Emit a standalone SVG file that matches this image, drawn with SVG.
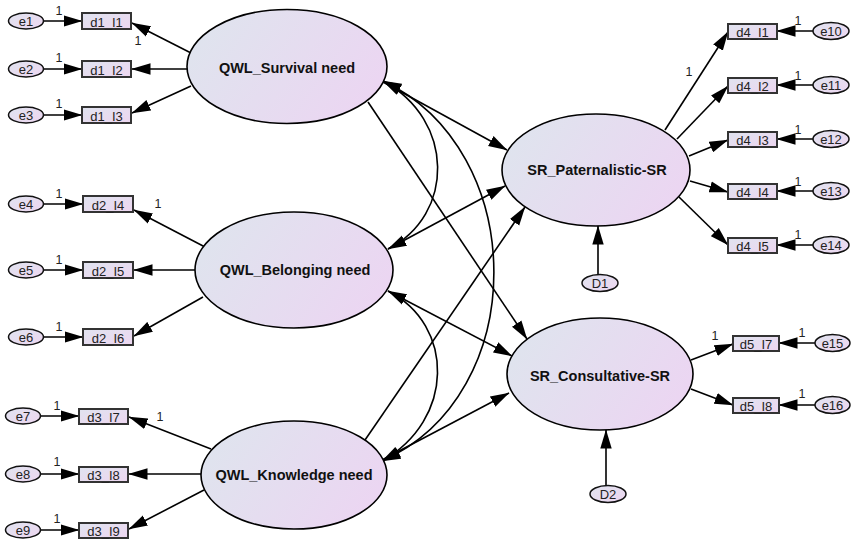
<svg xmlns="http://www.w3.org/2000/svg" width="851" height="542" viewBox="0 0 851 542">
<defs>
<linearGradient id="gBig" x1="0" y1="0.3" x2="1" y2="0.7">
<stop offset="0" stop-color="#dfe4ee"/>
<stop offset="1" stop-color="#ecd5f2"/>
</linearGradient>
<linearGradient id="gSmall" x1="0" y1="0" x2="1" y2="1">
<stop offset="0" stop-color="#e0e3ef"/>
<stop offset="1" stop-color="#edd6f0"/>
</linearGradient>
<marker id="arr" markerUnits="userSpaceOnUse" markerWidth="19" markerHeight="12" viewBox="0 0 19 12" refX="18.5" refY="6" orient="auto-start-reverse">
<path d="M0,0.3 L19,6 L0,11.7 z" fill="#000"/>
</marker>
<style>
.lat{fill:url(#gBig);stroke:#000;stroke-width:1.6}
.obs{fill:url(#gSmall);stroke:#333;stroke-width:2}
.err{fill:url(#gSmall);stroke:#111;stroke-width:1.5}
.big{font-family:"Liberation Sans",Arial,sans-serif;font-size:14.5px;font-weight:bold;text-anchor:middle;fill:#111}
.sm{font-family:"Liberation Sans",Arial,sans-serif;font-size:13px;text-anchor:middle;fill:#222}
.one{font-family:"Liberation Sans",Arial,sans-serif;font-size:12.5px;text-anchor:middle;fill:#222}
.c line,.c path{stroke:#000;stroke-width:1.6;fill:none}
.a{marker-end:url(#arr)}
.b{marker-start:url(#arr);marker-end:url(#arr)}
</style>
</defs>
<rect width="851" height="542" fill="#fff"/>

<g id="connectors" class="c">
<line class="a" x1="383" y1="82" x2="507" y2="150"/>
<line class="a" x1="368" y1="102" x2="527" y2="339"/>
<line class="a" x1="388" y1="249" x2="505" y2="186"/>
<line class="a" x1="388" y1="291" x2="512" y2="356"/>
<line class="a" x1="365" y1="440" x2="525" y2="207"/>
<line class="a" x1="382" y1="460" x2="509" y2="393"/>
<path class="b" d="M383,81 C455,120 455,215 388,249"/>
<path class="b" d="M383,81 C530,150 532,395 382,461"/>
<path class="b" d="M388,291 C455,325 455,420 382,461"/>
<line class="a" x1="191" y1="53" x2="132" y2="23"/>
<line class="a" x1="187" y1="69" x2="132" y2="69"/>
<line class="a" x1="191" y1="86" x2="132" y2="113"/>
<line class="a" x1="205" y1="247" x2="134" y2="210"/>
<line class="a" x1="195" y1="270" x2="134" y2="270"/>
<line class="a" x1="203" y1="297" x2="134" y2="336"/>
<line class="a" x1="211" y1="449" x2="129" y2="417"/>
<line class="a" x1="201" y1="474" x2="129" y2="474"/>
<line class="a" x1="204" y1="490" x2="129" y2="529"/>
<line class="a" x1="665" y1="130" x2="728" y2="32"/>
<line class="a" x1="677" y1="139" x2="728" y2="86"/>
<line class="a" x1="689" y1="156" x2="728" y2="140"/>
<line class="a" x1="690" y1="181" x2="728" y2="192"/>
<line class="a" x1="679" y1="197" x2="728" y2="245"/>
<line class="a" x1="691" y1="360" x2="733" y2="344"/>
<line class="a" x1="691" y1="389" x2="733" y2="405"/>
<line class="a" x1="43" y1="21" x2="82" y2="21"/>
<line class="a" x1="43" y1="69" x2="82" y2="69"/>
<line class="a" x1="43" y1="115" x2="82" y2="115"/>
<line class="a" x1="43" y1="204" x2="83" y2="204"/>
<line class="a" x1="43" y1="270" x2="83" y2="270"/>
<line class="a" x1="43" y1="337" x2="83" y2="337"/>
<line class="a" x1="40" y1="416" x2="79" y2="416"/>
<line class="a" x1="40" y1="474" x2="79" y2="474"/>
<line class="a" x1="40" y1="530" x2="79" y2="530"/>
<line class="a" x1="813" y1="31" x2="777" y2="31"/>
<line class="a" x1="813" y1="85" x2="777" y2="85"/>
<line class="a" x1="813" y1="139" x2="777" y2="139"/>
<line class="a" x1="813" y1="191" x2="777" y2="191"/>
<line class="a" x1="813" y1="245" x2="777" y2="245"/>
<line class="a" x1="815" y1="343" x2="779" y2="343"/>
<line class="a" x1="815" y1="405" x2="779" y2="405"/>
<line class="a" x1="598" y1="275" x2="598" y2="226"/>
<line class="a" x1="606" y1="486" x2="606" y2="430"/>
</g>

<g id="labels">
<text class="one" x="59" y="15">1</text>
<text class="one" x="59" y="62">1</text>
<text class="one" x="59" y="108">1</text>
<text class="one" x="138" y="45">1</text>
<text class="one" x="59" y="198">1</text>
<text class="one" x="59" y="264">1</text>
<text class="one" x="59" y="331">1</text>
<text class="one" x="158" y="208">1</text>
<text class="one" x="57" y="410">1</text>
<text class="one" x="57" y="466">1</text>
<text class="one" x="57" y="523">1</text>
<text class="one" x="160" y="421">1</text>
<text class="one" x="689" y="76">1</text>
<text class="one" x="798" y="25">1</text>
<text class="one" x="798" y="80">1</text>
<text class="one" x="798" y="134">1</text>
<text class="one" x="798" y="186">1</text>
<text class="one" x="798" y="239">1</text>
<text class="one" x="715" y="340">1</text>
<text class="one" x="802" y="337">1</text>
<text class="one" x="802" y="398">1</text>
</g>

<g id="QWL_Survival"><ellipse class="lat" cx="287" cy="66.5" rx="100" ry="57"/><text class="big" x="287" y="73">QWL_Survival need</text></g>
<g id="QWL_Belonging"><ellipse class="lat" cx="294" cy="270" rx="99" ry="58"/><text class="big" x="295" y="275">QWL_Belonging need</text></g>
<g id="QWL_Knowledge"><ellipse class="lat" cx="294" cy="475" rx="93" ry="54"/><text class="big" x="294" y="480">QWL_Knowledge need</text></g>
<g id="SR_Paternalistic"><ellipse class="lat" cx="596" cy="170" rx="94" ry="56"/><text class="big" x="597" y="175">SR_Paternalistic-SR</text></g>
<g id="SR_Consultative"><ellipse class="lat" cx="600" cy="374" rx="93" ry="56"/><text class="big" x="600" y="381">SR_Consultative-SR</text></g>

<g id="d1_I1"><rect class="obs" x="82" y="13" width="49" height="16"/><text class="sm" x="106.5" y="27">d1_I1</text></g>
<g id="d1_I2"><rect class="obs" x="82" y="61" width="49" height="16"/><text class="sm" x="106.5" y="75">d1_I2</text></g>
<g id="d1_I3"><rect class="obs" x="82" y="107" width="49" height="16"/><text class="sm" x="106.5" y="121">d1_I3</text></g>
<g id="d2_I4"><rect class="obs" x="83" y="196" width="50" height="16"/><text class="sm" x="108" y="210">d2_I4</text></g>
<g id="d2_I5"><rect class="obs" x="83" y="262" width="50" height="16"/><text class="sm" x="108" y="276">d2_I5</text></g>
<g id="d2_I6"><rect class="obs" x="83" y="329" width="50" height="16"/><text class="sm" x="108" y="343">d2_I6</text></g>
<g id="d3_I7"><rect class="obs" x="79" y="409" width="49" height="15"/><text class="sm" x="103.5" y="422">d3_I7</text></g>
<g id="d3_I8"><rect class="obs" x="79" y="467" width="49" height="15"/><text class="sm" x="103.5" y="480">d3_I8</text></g>
<g id="d3_I9"><rect class="obs" x="79" y="523" width="49" height="15"/><text class="sm" x="103.5" y="536">d3_I9</text></g>
<g id="d4_I1"><rect class="obs" x="728" y="24" width="49" height="15"/><text class="sm" x="752.5" y="37">d4_I1</text></g>
<g id="d4_I2"><rect class="obs" x="728" y="78" width="49" height="15"/><text class="sm" x="752.5" y="91">d4_I2</text></g>
<g id="d4_I3"><rect class="obs" x="728" y="132" width="49" height="15"/><text class="sm" x="752.5" y="145">d4_I3</text></g>
<g id="d4_I4"><rect class="obs" x="728" y="184" width="49" height="15"/><text class="sm" x="752.5" y="197">d4_I4</text></g>
<g id="d4_I5"><rect class="obs" x="728" y="238" width="49" height="15"/><text class="sm" x="752.5" y="251">d4_I5</text></g>
<g id="d5_I7"><rect class="obs" x="733" y="336" width="46" height="15"/><text class="sm" x="756" y="349">d5_I7</text></g>
<g id="d5_I8"><rect class="obs" x="733" y="398" width="46" height="15"/><text class="sm" x="756" y="411">d5_I8</text></g>

<g id="e1"><ellipse class="err" cx="26" cy="21" rx="17.5" ry="8"/><text class="sm" x="26" y="26">e1</text></g>
<g id="e2"><ellipse class="err" cx="26" cy="69" rx="17.5" ry="8"/><text class="sm" x="26" y="74">e2</text></g>
<g id="e3"><ellipse class="err" cx="26" cy="115" rx="17.5" ry="8"/><text class="sm" x="26" y="120">e3</text></g>
<g id="e4"><ellipse class="err" cx="26" cy="204" rx="17.5" ry="8"/><text class="sm" x="26" y="209">e4</text></g>
<g id="e5"><ellipse class="err" cx="26" cy="270" rx="17.5" ry="8"/><text class="sm" x="26" y="275">e5</text></g>
<g id="e6"><ellipse class="err" cx="26" cy="337" rx="17.5" ry="8"/><text class="sm" x="26" y="342">e6</text></g>
<g id="e7"><ellipse class="err" cx="23" cy="416" rx="17.5" ry="8"/><text class="sm" x="23" y="421">e7</text></g>
<g id="e8"><ellipse class="err" cx="23" cy="474" rx="17.5" ry="8"/><text class="sm" x="23" y="479">e8</text></g>
<g id="e9"><ellipse class="err" cx="23" cy="530" rx="17.5" ry="8"/><text class="sm" x="23" y="535">e9</text></g>
<g id="e10"><ellipse class="err" cx="831" cy="31" rx="18" ry="8.5"/><text class="sm" x="831" y="36">e10</text></g>
<g id="e11"><ellipse class="err" cx="831" cy="85" rx="18" ry="8.5"/><text class="sm" x="831" y="90">e11</text></g>
<g id="e12"><ellipse class="err" cx="831" cy="139" rx="18" ry="8.5"/><text class="sm" x="831" y="144">e12</text></g>
<g id="e13"><ellipse class="err" cx="831" cy="191" rx="18" ry="8.5"/><text class="sm" x="831" y="196">e13</text></g>
<g id="e14"><ellipse class="err" cx="831" cy="245" rx="18" ry="8.5"/><text class="sm" x="831" y="250">e14</text></g>
<g id="e15"><ellipse class="err" cx="832.5" cy="343" rx="17.5" ry="8.5"/><text class="sm" x="832.5" y="348">e15</text></g>
<g id="e16"><ellipse class="err" cx="832.5" cy="405" rx="17.5" ry="8.5"/><text class="sm" x="832.5" y="410">e16</text></g>
<g id="D1"><ellipse class="err" cx="600" cy="283" rx="18" ry="8.5"/><text class="sm" x="600" y="288">D1</text></g>
<g id="D2"><ellipse class="err" cx="608" cy="494" rx="18" ry="8.5"/><text class="sm" x="608" y="499">D2</text></g>
</svg>
